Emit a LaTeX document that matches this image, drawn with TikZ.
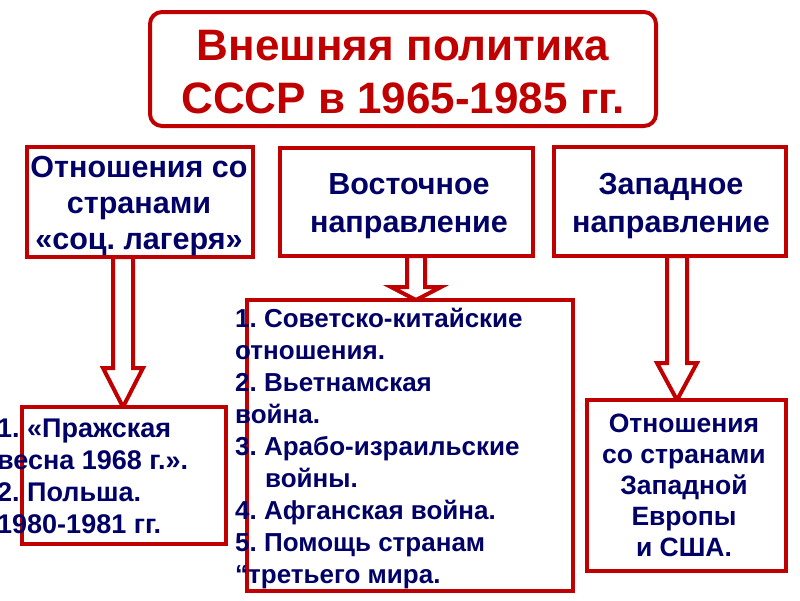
\documentclass[tikz,border=0pt]{standalone}
\usepackage{fontspec}
\setmainfont{Liberation Sans}
\usepackage{tikz}
\usetikzlibrary{calc,backgrounds}
\definecolor{boxred}{RGB}{192, 0, 0}
\definecolor{navy}{RGB}{0, 0, 102}
\frenchspacing

\tikzset{
  box/.style={draw=boxred, line width=4.5pt, fill=white, inner sep=0pt, outer sep=0pt},
  titlebox/.style={box, rounded corners=12pt, line width=4pt},
  boxtext/.style={text=navy, align=center, inner sep=0pt, anchor=north,
    font=\bfseries\fontsize{30.5}{38}\selectfont},
  titletext/.style={boxtext, text=boxred, font=\bfseries\fontsize{44}{53}\selectfont},
  listtext/.style={text=navy, align=left, inner sep=0pt, anchor=north west,
    font=\bfseries\fontsize{26}{32}\selectfont},
  arrowline/.style={draw=boxred, line width=4pt, fill=white, line join=miter}
}

% x, from, to, shaft half width, head half width, head length
\newcommand{\hollowarrow}[6]{%
  \draw[arrowline] let \p1=(#2.south), \p2=(#3.north) in
    (#1-#4, \y1) -- (#1-#4, {\y2+#6pt}) -- (#1-#5, {\y2+#6pt}) -- (#1, \y2)
    -- (#1+#5, {\y2+#6pt}) -- (#1+#4, {\y2+#6pt}) -- (#1+#4, \y1) -- cycle;}

\begin{document}
\begin{tikzpicture}[x=1pt, y=1pt]
  \useasboundingbox (0, 0) rectangle (800, -600);
  \clip (0, 0) rectangle (800, -600);

  % boxes
  \node[titlebox, minimum width=506, minimum height=114] (title) at (403, -69) {};
  \node[box, minimum width=226, minimum height=110] (socbloc) at (140, -202) {};
  \node[box, minimum width=253, minimum height=108] (east) at (406.5, -202) {};
  \node[box, minimum width=232, minimum height=109] (west) at (670, -201.5) {};
  \node[box, minimum width=204, minimum height=137] (socbox) at (124, -475.5) {};
  \node[box, minimum width=326, minimum height=291] (eastbox) at (410, -445.5) {};
  \node[box, minimum width=199, minimum height=171] (westbox) at (686.5, -485.5) {};

  % texts
  \node[titletext] (titlelabel) at (403, -30.5)
    {Внешняя политика\\ СССР в 1965-1985 гг.};
  \node[boxtext, font=\bfseries\fontsize{30.5}{36}\selectfont] (socbloclabel) at (139, -156)
    {Отношения со\\странами\\«соц. лагеря»};
  \node[boxtext] (eastlabel) at (409, -173) {Восточное\\направление};
  \node[boxtext] (westlabel) at (671, -173) {Западное\\направление};
  \node[boxtext, font=\bfseries\fontsize{26.5}{31}\selectfont] (westboxlabel) at (684, -414)
    {Отношения\\со странами\\Западной\\Европы\\ и США.};

  \node[listtext, font=\bfseries\fontsize{27}{32}\selectfont] (soclist) at (-3, -418.5)
    {1. «Пражская\\весна 1968 г.».\\2. Польша.\\1980-1981 гг.};
  \node[listtext] (eastlist) at (235, -308)
    {1. Советско-китайские\\отношения.\\2. Вьетнамская\\война.\\3. Арабо-израильские\\
     \hspace*{30pt}войны.\\4. Афганская война.\\5. Помощь странам\\“третьего мира.};

  % arrows
  \begin{scope}[on background layer]
    \fill[white] (0, 0) rectangle (800, -600);
    \hollowarrow{123}{socbloc}{socbox}{10}{20}{39}
    \hollowarrow{416}{east}{eastbox}{9}{25}{13}
    \hollowarrow{677}{west}{westbox}{10}{20}{37}
  \end{scope}
\end{tikzpicture}
\end{document}
